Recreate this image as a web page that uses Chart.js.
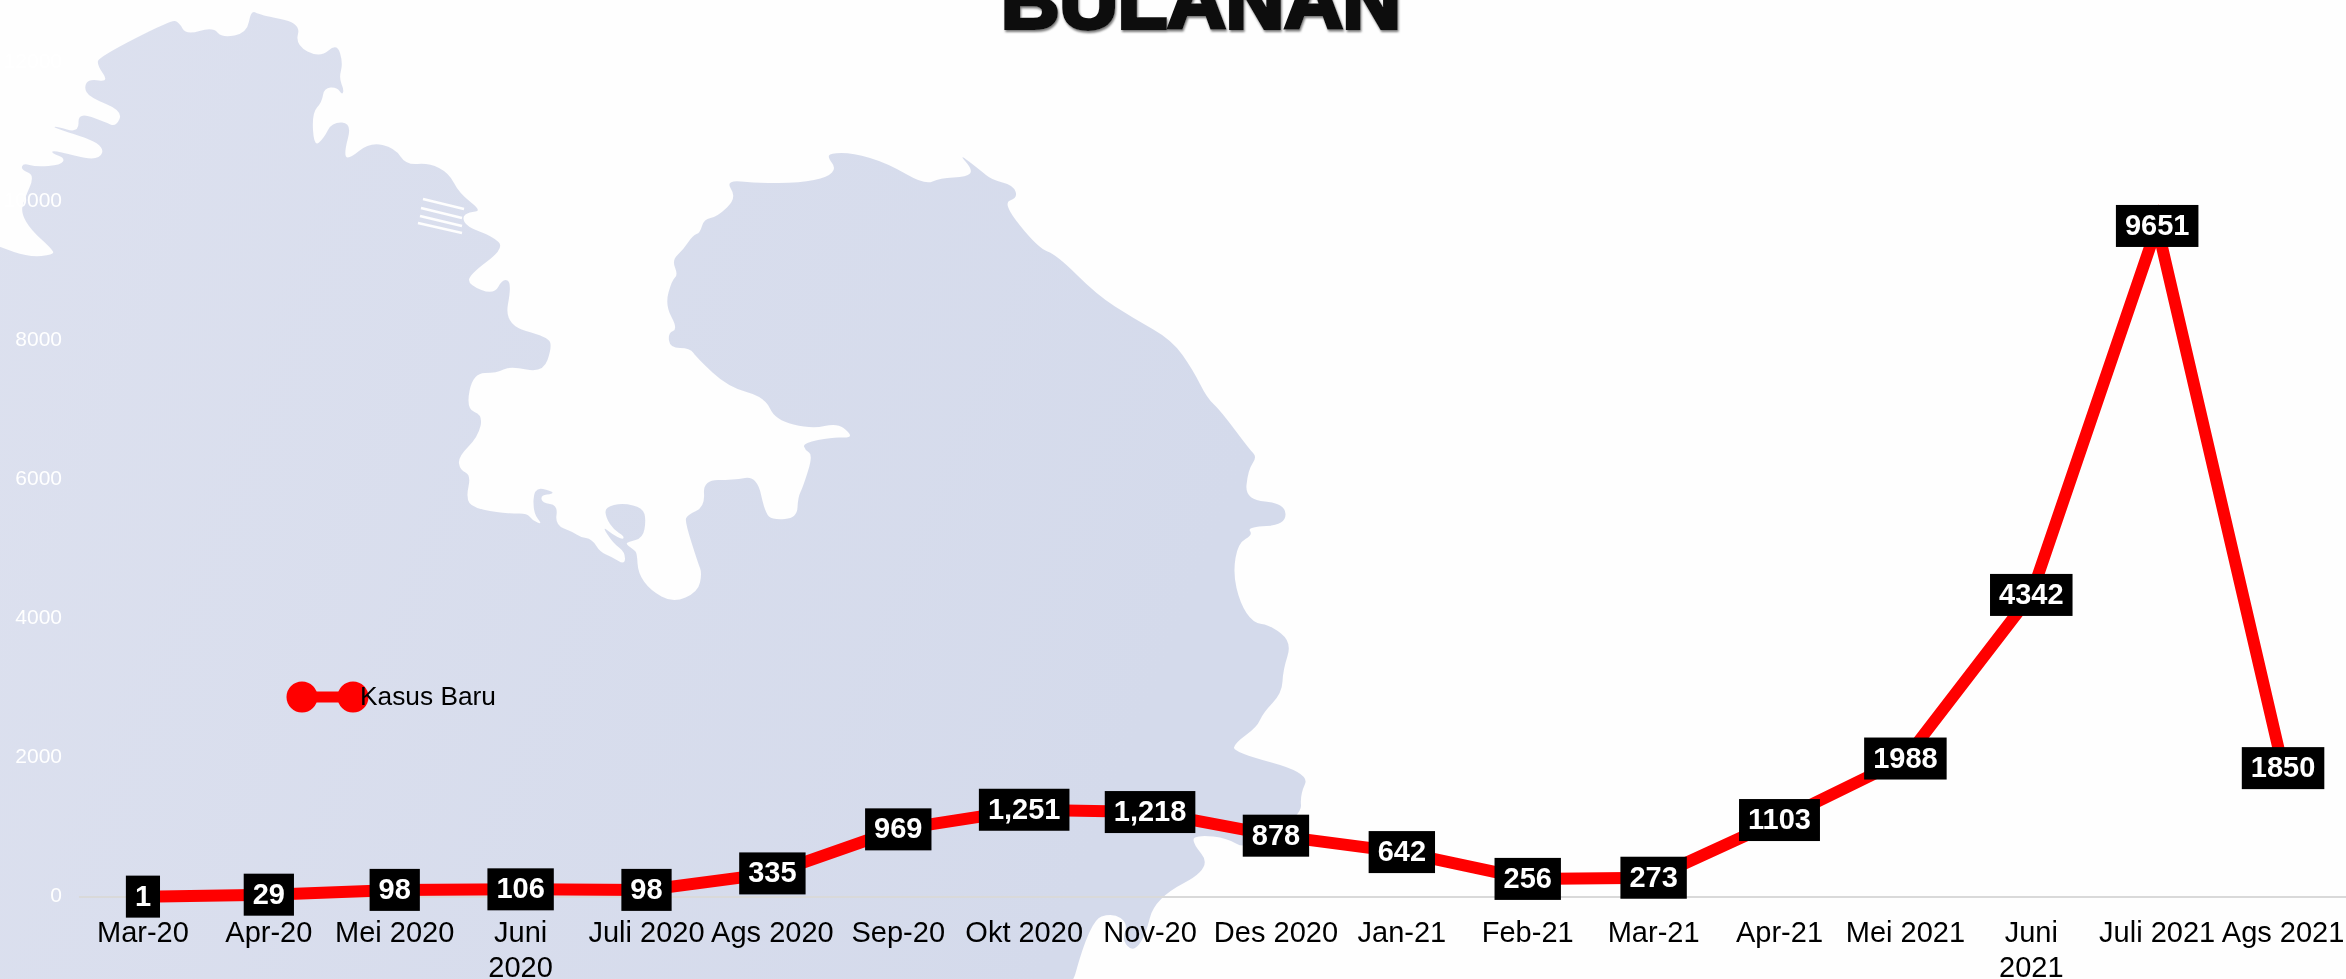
<!DOCTYPE html>
<html>
<head>
<meta charset="utf-8">
<title>Kasus Baru</title>
<script src="https://cdn.jsdelivr.net/npm/chart.js@4/dist/chart.umd.min.js"></script>
<style>
  html, body { margin: 0; padding: 0; background: #fefefe; overflow: hidden; }
  #stage { position: relative; width: 2346px; height: 979px; overflow: hidden; }
  #bg { position: absolute; left: 0; top: 0; }
  #chartBox { position: absolute; left: 0; top: 0; width: 2346px; height: 979px; }
</style>
</head>
<body>
<div id="stage">
  <svg id="bg" width="2346" height="979" viewBox="0 0 2346 979">
    <defs>
      <linearGradient id="land" x1="0" y1="0" x2="1" y2="0.3">
        <stop offset="0" stop-color="#dde1ef"/>
        <stop offset="1" stop-color="#d4daeb"/>
      </linearGradient>
      <filter id="soft"><feGaussianBlur stdDeviation="0.7"/></filter>
      <filter id="shade"><feDropShadow dx="1" dy="2" stdDeviation="1" flood-color="#777"/></filter>
    </defs>
    <path id="mapShape" fill="url(#land)" filter="url(#soft)"/>
    <g stroke="#fefefe" stroke-width="2.5" filter="url(#soft)">
      <line x1="423" y1="199" x2="464" y2="209"/>
      <line x1="421" y1="208" x2="462" y2="218"/>
      <line x1="420" y1="216" x2="462" y2="226"/>
      <line x1="418" y1="223" x2="462" y2="233"/>
    </g>
    <text x="1201" y="28" text-anchor="middle" textLength="400" lengthAdjust="spacingAndGlyphs"
          font-family="Liberation Sans" font-weight="bold" font-size="78"
          fill="#0a0a0a" stroke="#0a0a0a" stroke-width="4" filter="url(#shade)">BULANAN</text>
  </svg>
  <div id="chartBox"><canvas id="kasusChart" width="2346" height="979"></canvas></div>
</div>

<script>
const categories = ['Mar-20', 'Apr-20', 'Mei 2020', ['Juni', '2020'], 'Juli 2020', 'Ags 2020', 'Sep-20', 'Okt 2020', 'Nov-20',
  'Des 2020', 'Jan-21', 'Feb-21', 'Mar-21', 'Apr-21', 'Mei 2021', ['Juni', '2021'], 'Juli 2021', 'Ags 2021'];
const kasusBaru = [1, 29, 98, 106, 98, 335, 969, 1251, 1218, 878, 642, 256, 273, 1103, 1988, 4342, 9651, 1850];
const pointLabels = ['1', '29', '98', '106', '98', '335', '969', '1,251', '1,218', '878', '642', '256', '273', '1103', '1988', '4342', '9651', '1850'];
const seriesName = 'Kasus Baru';

// backdrop map outline (not chart data)
const mapOutline = '-40,1000 -40,1030 -10,1030 1060,1030 1090,920 1113,913 1128,923 1122,940 1133,952 1145,937 1155,898 1213,868 1190,840 1200,835 1227,838 1247,850 1302,815 1300,795 1310,773 1233,752 1235,743 1257,727 1263,713 1282,693 1283,670 1292,642 1270,625 1253,623 1240,603 1233,573 1238,543 1253,535 1247,527 1286,525 1285,503 1245,500 1248,470 1257,457 1250,450 1220,410 1207,398 1193,370 1172,340 1133,318 1097,295 1057,255 1038,248 1002,203 1018,198 1013,185 992,180 980,170 958,153 973,170 967,177 940,178 925,185 887,163 853,153 830,153 828,158 836,168 828,177 800,183 757,183 725,180 737,198 717,217 704,219 700,233 693,235 683,250 672,260 678,275 672,280 665,305 678,329 668,333 670,348 690,348 697,358 728,387 765,397 775,420 812,429 837,423 850,433 850,438 833,437 803,443 805,450 813,455 803,487 798,497 797,518 773,520 765,513 757,476 733,480 703,480 705,507 687,515 685,522 698,563 702,573 698,592 673,603 650,590 638,573 637,553 634,550 626,544 628,542 643,538 646,520 643,508 623,503 605,507 606,518 614,530 624,536 623,540 612,534 602,526 613,543 625,552 625,565 612,557 600,552 592,539 580,537 573,532 555,525 558,505 542,503 541,495 553,494 552,491 534,487 533,513 543,525 532,520 527,513 507,514 473,508 466,498 471,475 460,470 458,457 478,437 483,415 466,409 473,373 497,373 510,366 543,373 552,347 548,337 504,325 512,283 503,278 494,295 469,285 469,275 505,248 492,236 467,227 462,217 469,212 482,211 459,193 449,173 429,163 406,165 395,148 370,142 348,160 344,153 352,123 332,122 324,138 314,147 312,113 322,102 324,88 337,87 342,95 344,90 339,78 343,63 337,43 320,58 295,45 301,23 260,15 251,10 247,33 222,38 213,27 186,35 179,22 171,20 99,57 97,65 109,82 89,79 84,87 89,97 123,111 116,127 105,122 78,112 79,133 55,126 54,128 105,144 99,162 54,150 51,153 65,158 61,165 36,167 23,163 21,170 35,175 24,200 21,213 31,230 51,248 55,255 28,257 0,247 -40,232';

// round off the traced corners with midpoints
function smoothOutline(text) {
  const pts = text.split(' ').map((p) => p.split(',').map(Number));
  const mid = (a, b) => [(a[0] + b[0]) / 2, (a[1] + b[1]) / 2];
  const start = mid(pts[pts.length - 1], pts[0]);
  let d = 'M' + start.join(' ');
  pts.forEach((p, i) => {
    const m = mid(p, pts[(i + 1) % pts.length]);
    d += ' Q' + p.join(' ') + ' ' + m.join(' ');
  });
  return d + 'Z';
}
document.getElementById('mapShape').setAttribute('d', smoothOutline(mapOutline));

// black boxes with white numbers on top of each point
const valueBoxes = {
  id: 'valueBoxes',
  afterDatasetsDraw(chart) {
    const ctx = chart.ctx;
    const points = chart.getDatasetMeta(0).data;
    ctx.save();
    ctx.font = 'bold 29px "Liberation Sans"';
    ctx.textAlign = 'center';
    ctx.textBaseline = 'middle';
    points.forEach((pt, i) => {
      const w = ctx.measureText(pointLabels[i]).width + 18;
      ctx.fillStyle = '#000';
      ctx.fillRect(pt.x - w / 2, pt.y - 21, w, 42);
      ctx.fillStyle = '#fff';
      ctx.fillText(pointLabels[i], pt.x, pt.y + 1);
    });
    ctx.restore();
  }
};

// legend sits inside the plot on the original, so it is drawn by hand
const floatingLegend = {
  id: 'floatingLegend',
  afterDraw(chart) {
    const ctx = chart.ctx;
    const y = 697;
    ctx.save();
    ctx.strokeStyle = '#ff0000';
    ctx.fillStyle = '#ff0000';
    ctx.lineWidth = 11;
    ctx.beginPath();
    ctx.moveTo(302, y);
    ctx.lineTo(353, y);
    ctx.stroke();
    [302, 353].forEach((x) => {
      ctx.beginPath();
      ctx.arc(x, y, 15.5, 0, Math.PI * 2);
      ctx.fill();
    });
    ctx.fillStyle = '#000';
    ctx.font = '26.3px "Liberation Sans"';
    ctx.textBaseline = 'middle';
    ctx.fillText(seriesName, 360, y + 1);
    ctx.restore();
  }
};

const kasusChart = new Chart(document.getElementById('kasusChart').getContext('2d'), {
  type: 'line',
  data: {
    labels: categories,
    datasets: [
      {
        label: seriesName,
        data: kasusBaru,
        borderColor: '#ff0000',
        backgroundColor: '#ff0000',
        borderWidth: 12,
        pointRadius: 0,
        tension: 0,
        fill: false,
        clip: false,
      },
    ],
  },
  options: {
    responsive: false,
    animation: false,
    layout: { padding: { top: 62.7, right: 0, left: 0, bottom: 0 } },
    plugins: {
      legend: { display: false },
      title: { display: false },
      tooltip: { enabled: false },
    },
    scales: {
      x: {
        offset: true,
        grid: { display: false, drawTicks: false },
        border: { color: '#d9d9d9', width: 2 },
        ticks: {
          color: '#000',
          font: { family: 'Liberation Sans', size: 29 },
          padding: 20,
          maxRotation: 0,
          autoSkip: false,
        },
        afterFit(scale) {
          scale.height = 82.3;
          scale.paddingLeft = 0;
          scale.paddingRight = 0;
        },
      },
      y: {
        min: 0,
        max: 12000,
        grid: { display: false, drawTicks: false },
        border: { display: false },
        ticks: {
          stepSize: 2000,
          color: '#ffffff',
          font: { family: 'Liberation Sans', size: 21 },
          padding: 18,
          callback: (value) => String(value),
        },
        afterFit(scale) {
          scale.width = 80;
          scale.paddingTop = 0;
          scale.paddingBottom = 0;
        },
      },
    },
  },
  plugins: [valueBoxes, floatingLegend],
});
</script>
</body>
</html>
